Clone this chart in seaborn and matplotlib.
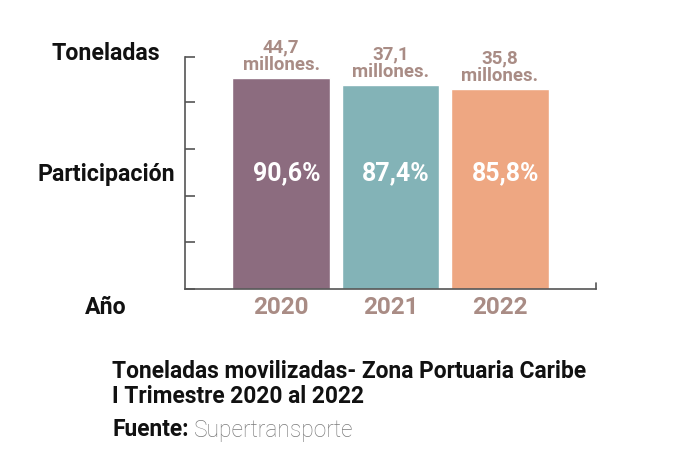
import matplotlib
matplotlib.use("Agg")
import matplotlib.pyplot as plt
import seaborn as sns
import pandas as pd

years = ["2020", "2021", "2022"]
participacion = [90.6, 87.4, 85.8]
toneladas = ["44,7", "37,1", "35,8"]
pct_labels = ["90,6%", "87,4%", "85,8%"]
colors = ["#8C6C7F", "#83B3B7", "#EEA782"]
label_color = "#A98C85"

sns.set_theme(style="white")
plt.rcParams['font.family'] = ['Roboto', 'DejaVu Sans']

df = pd.DataFrame({"year": years, "part": participacion})

fig = plt.figure(figsize=(7, 4.58), dpi=100)
ax = fig.add_axes([185/700, 1-289/458, (596-185)/700, (289-57)/458])

sns.barplot(data=df, x="year", y="part", hue="year", palette=colors,
            width=0.895, legend=False, ax=ax, saturation=1)

ax.set_xlim(-0.877, 2.877)
ax.set_ylim(0, 99.5)
ax.set_yticks([0, 20, 40, 60, 80, 99.5])
ax.set_yticklabels([])
ax.tick_params(axis="y", direction="in", length=7, width=1.2, color="#555555", left=True)
ax.tick_params(axis="x", length=0, pad=5)
ax.set_xlabel("")
ax.set_ylabel("")
for s in ["top", "right"]:
    ax.spines[s].set_visible(False)
for s in ["left", "bottom"]:
    ax.spines[s].set_color("#555555")
    ax.spines[s].set_linewidth(1.2)
ax.plot([1, 1], [0, 0.025], transform=ax.transAxes, color="#555555", lw=1.2, clip_on=False)

for lbl in ax.get_xticklabels():
    lbl.set_fontsize(17.5)
    lbl.set_fontweight("bold")
    lbl.set_color(label_color)

pct_y = 1 - 173/458
for i, (v, t, p) in enumerate(zip(participacion, toneladas, pct_labels)):
    ax.annotate(f"{t}\nmillones.", (i, v), xytext=(0, 3), textcoords="offset points",
                ha="center", va="bottom", fontsize=13.4, fontweight="bold",
                color=label_color, linespacing=0.95)
    ax.annotate(p, (i, pct_y), xytext=(4, 0), textcoords="offset points",
                xycoords=("data", "figure fraction"), ha="center", va="center",
                fontsize=18, fontweight="bold", color="white")

kw = dict(ha="center", va="center", fontsize=16.7, fontweight="bold", color="#111111")
fig.text(106/700, 1-54/458, "Toneladas", **kw)
fig.text(106/700, 1-174/458, "Participación", **kw)
fig.text(106/700, 1-308/458, "Año", **kw)

fig.text(112/700, 1-384/458, "Toneladas movilizadas- Zona Portuaria Caribe\nI Trimestre 2020 al 2022",
         ha="left", va="center", fontsize=16.4, fontweight="bold", color="#111111", linespacing=1.1)
t1 = fig.text(112/700, 1-430/458, "Fuente:", ha="left", va="center", fontsize=16.4,
              fontweight="bold", color="#111111")
fig.canvas.draw()
bb = t1.get_window_extent()
fig.text((bb.x1 + 5)/700, 1-430/458, "Supertransporte", ha="left", va="center", fontsize=16.4,
         fontweight="light", color="#7A7A7A")

fig.savefig("out.png", dpi=100)
